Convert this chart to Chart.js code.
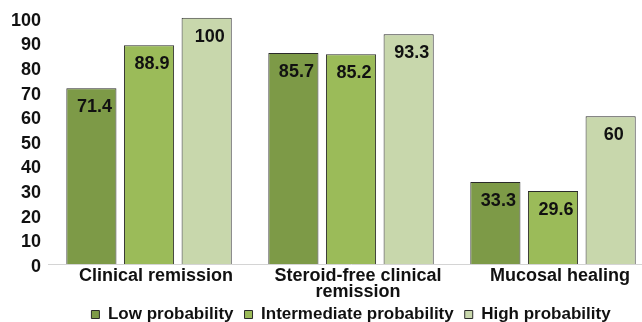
<!DOCTYPE html>
<html>
<head>
<meta charset="utf-8">
<script src="https://cdn.jsdelivr.net/npm/chart.js@4.4.1/dist/chart.umd.min.js"></script>
<style>
  html, body { margin: 0; padding: 0; background: #ffffff; overflow: hidden; width: 642px; height: 322px; }
  #wrap { position: absolute; left: 0; top: 0; width: 691px; height: 322px; }
</style>
</head>
<body>
<div id="wrap"><canvas id="chart" width="691" height="322"></canvas></div>
<script>
// Outcome categories (x axis)
const categories = [
  'Clinical remission',
  ['Steroid-free clinical', 'remission'],
  'Mucosal healing'
];

// Percentages per probability group
const lowProbability = [71.4, 85.7, 33.3];
const intermediateProbability = [88.9, 85.2, 29.6];
const highProbability = [100, 93.3, 60];

// Y axis tick values
const yTicks = [0, 10, 20, 30, 40, 50, 60, 70, 80, 90, 100];

const FONT = "'Liberation Sans', Arial, sans-serif";

// Writes each bar's value just under its top edge
const valueLabels = {
  id: 'valueLabels',
  afterDatasetsDraw(chart) {
    const ctx = chart.ctx;
    ctx.save();
    ctx.font = 'bold 18px ' + FONT;
    ctx.fillStyle = '#111111';
    ctx.textAlign = 'center';
    ctx.textBaseline = 'middle';
    chart.data.datasets.forEach((ds, di) => {
      const meta = chart.getDatasetMeta(di);
      meta.data.forEach((bar, i) => {
        ctx.fillText(String(ds.data[i]), bar.x + 3, bar.y + 19);
      });
    });
    ctx.restore();
  }
};

// The category axis is packed tightly against the legend; let its
// two-line labels spill past the axis box instead of being clipped.
const looseCategoryLabels = {
  id: 'looseCategoryLabels',
  afterLayout(chart) {
    const x = chart.scales.x;
    x.bottom = x.top + 45;
  }
};

const barBorder = '#2a2a2a';

new Chart(document.getElementById('chart'), {
  type: 'bar',
  data: {
    labels: categories,
    datasets: [
      { label: 'Low probability', data: lowProbability, backgroundColor: '#7d9a47', borderColor: barBorder, borderWidth: 1 },
      { label: 'Intermediate probability', data: intermediateProbability, backgroundColor: '#9bbb59', borderColor: barBorder, borderWidth: 1 },
      { label: 'High probability', data: highProbability, backgroundColor: '#c8d7ac', borderColor: barBorder, borderWidth: 1 }
    ]
  },
  options: {
    responsive: false,
    animation: false,
    devicePixelRatio: 1,
    layout: { padding: { top: 17, right: 37, bottom: -11, left: 4 } },
    datasets: {
      bar: { categoryPercentage: 0.856, barPercentage: 0.87 }
    },
    scales: {
      x: {
        offset: true,
        afterFit(scale) { scale.height = 31; },
        grid: { display: false, drawTicks: false },
        border: { display: true, color: '#d4d4d4', width: 1 },
        ticks: {
          color: '#111111',
          font: { family: FONT, size: 18, weight: 'bold', lineHeight: 0.9 },
          padding: 4,
          labelOffset: 7,
          maxRotation: 0,
          autoSkip: false
        }
      },
      y: {
        min: 0,
        max: 100,
        afterBuildTicks(scale) { scale.ticks = yTicks.map(v => ({ value: v })); },
        grid: { display: false, drawTicks: false },
        border: { display: false },
        ticks: {
          color: '#111111',
          font: { family: FONT, size: 18, weight: 'bold' },
          padding: 7,
          labelOffset: 3,
          autoSkip: false
        }
      }
    },
    plugins: {
      tooltip: { enabled: false },
      legend: {
        position: 'bottom',
        fullSize: false,
        labels: {
          color: '#111111',
          font: { family: FONT, size: 17, weight: 'bold' },
          boxWidth: 8,
          boxHeight: 8,
          padding: 11,
          useBorderRadius: false
        }
      }
    }
  },
  plugins: [valueLabels, looseCategoryLabels]
});
</script>
</body>
</html>
